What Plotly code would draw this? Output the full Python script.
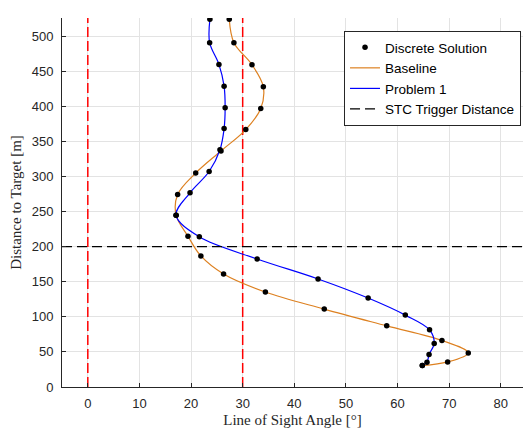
import plotly.graph_objects as go

# Baseline trajectory discrete points (line of sight angle [deg], distance [m])
baseline_angle = [27.4, 28.3, 31.8, 34.0, 33.5, 30.6, 25.8, 20.9, 17.4, 17.1, 19.4, 21.9,
                  26.3, 34.4, 45.8, 57.9, 68.6, 73.7, 69.7, 64.8]
baseline_dist = [523.9, 490.6, 459.1, 427.7, 396.7, 366.7, 336.3, 304.8, 274.3, 244.8, 214.8, 186.7,
                 161.0, 135.3, 111.0, 87.1, 66.3, 48.6, 35.7, 30.5]

# Problem 1 trajectory discrete points
problem1_angle = [23.65, 23.6, 25.4, 26.4, 26.6, 26.4, 25.6, 23.5, 19.8, 17.1, 21.6, 32.8,
                  44.6, 54.3, 61.5, 66.2, 67.1, 66.1, 65.7, 64.8]
problem1_dist = [523.9, 490.6, 459.6, 428.6, 397.7, 368.1, 338.0, 307.0, 276.7, 244.8, 213.9, 182.4,
                 153.9, 126.7, 102.4, 81.4, 62.0, 46.3, 35.3, 30.5]

red_limit_angles = [0, 30]
stc_trigger_distance = 200

x_ticks = [0, 10, 20, 30, 40, 50, 60, 70, 80]
y_ticks = [0, 50, 100, 150, 200, 250, 300, 350, 400, 450, 500]
x_range = [-5, 84.3]
y_range = [0, 525.7]

fig = go.Figure()

# red dashed vertical limits
for a in red_limit_angles:
    fig.add_trace(go.Scatter(x=[a, a], y=y_range, mode="lines",
                             line=dict(color="#FF0000", width=1.5, dash="10px,4px"),
                             showlegend=False, hoverinfo="skip"))

fig.add_trace(go.Scatter(x=baseline_angle, y=baseline_dist, mode="lines", name="Baseline",
                         line=dict(color="#DD8020", width=1.2, shape="spline", smoothing=1.0),
                         legendrank=2))
fig.add_trace(go.Scatter(x=problem1_angle, y=problem1_dist, mode="lines", name="Problem 1",
                         line=dict(color="#0000FF", width=1.2, shape="spline", smoothing=1.0),
                         legendrank=3))

fig.add_trace(go.Scatter(x=x_range, y=[stc_trigger_distance, stc_trigger_distance], mode="lines",
                         name="STC Trigger Distance",
                         line=dict(color="#000000", width=1.2, dash="10px,5px"),
                         legendrank=4))

fig.add_trace(go.Scatter(x=baseline_angle + problem1_angle, y=baseline_dist + problem1_dist,
                         mode="markers", name="Discrete Solution",
                         marker=dict(color="black", size=5.5), legendrank=1))

axis_common = dict(
    showgrid=True, gridcolor="#E3E3E3", gridwidth=1,
    showline=True, linecolor="#262626", linewidth=1,
    ticks="inside", ticklen=4, tickcolor="#262626",
    zeroline=False, mirror=False,
    tickfont=dict(family="Liberation Sans, Arial, sans-serif", size=13, color="#262626"),
)

fig.update_xaxes(range=x_range, tickvals=x_ticks, ticklabelstandoff=4,
                 title=dict(text="Line of Sight Angle [°]", standoff=4,
                            font=dict(family="Liberation Serif, serif", size=15, color="#262626")),
                 **axis_common)
fig.update_yaxes(range=y_range, tickvals=y_ticks, ticklabelstandoff=5,
                 title=dict(text="Distance to Target [m]", standoff=6,
                            font=dict(family="Liberation Serif, serif", size=15, color="#262626")),
                 **axis_common)

fig.update_layout(
    width=523, height=428,
    margin=dict(l=62, r=0, t=18, b=41),
    plot_bgcolor="white", paper_bgcolor="white",
    legend=dict(x=0.9957, y=0.9647, xanchor="right", yanchor="top",
                bgcolor="white", bordercolor="#262626", borderwidth=1,
                font=dict(family="Liberation Sans, Arial, sans-serif", size=13.5, color="#000000"),
                tracegroupgap=0, itemwidth=30),
)

fig.write_html(
    "out.html",
    config={"displayModeBar": False},
    post_script="document.body.style.margin='0px';document.body.style.overflow='hidden';",
)
